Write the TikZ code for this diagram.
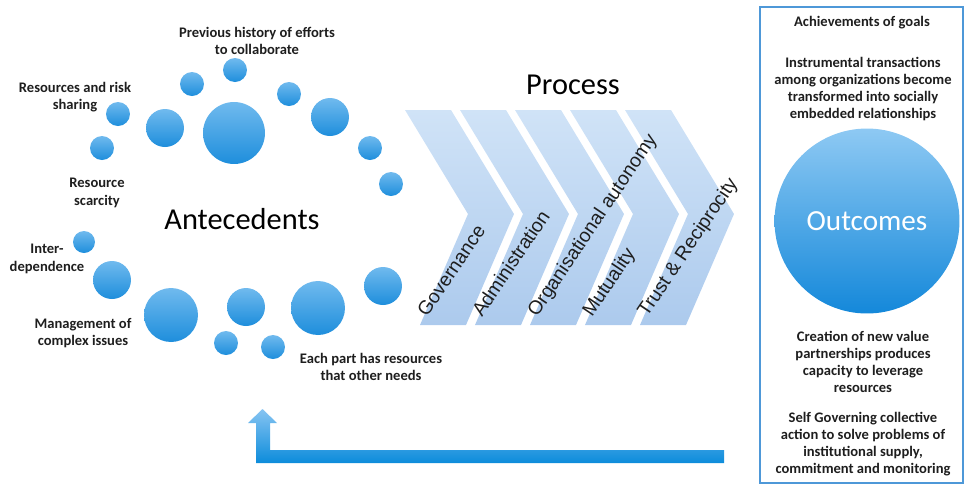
\documentclass[tikz,border=0pt]{standalone}
\usepackage{fontspec}
\setmainfont{Carlito}
\newfontfamily\chevfont{Liberation Sans}
\usepackage{tikz}
\definecolor{bubtop}{RGB}{112,186,238}
\definecolor{bubbot}{RGB}{30,142,220}
\definecolor{chevtop}{RGB}{208,227,247}
\definecolor{chevbot}{RGB}{172,202,237}
\definecolor{outtop}{RGB}{142,201,243}
\definecolor{outbot}{RGB}{20,136,218}
\definecolor{arrtop}{RGB}{135,196,242}
\definecolor{arrbot}{RGB}{12,140,219}
\definecolor{panelblue}{RGB}{78,152,216}
\definecolor{lbltext}{RGB}{30,30,30}

\begin{document}
\begin{tikzpicture}[x=0.02cm,y=-0.02cm,
  bubble/.style={circle,minimum size=#1*0.04cm,top color=bubtop,bottom color=bubbot},
  lbl/.style={font=\bfseries\fontsize{8.3}{9.8}\selectfont,align=center,text=lbltext},
  chevlbl/.style={font=\chevfont\fontsize{11}{13}\selectfont,rotate=56,anchor=base west,text=lbltext},
  title/.style={font=\fontsize{17.3}{20}\selectfont,text=black}]
\tikzstyle{every node}+=[inner sep=0pt]
\useasboundingbox (0,0) rectangle (964,485);
% antecedent bubbles
\foreach \x/\y/\r [count=\i] in {235/70/12,192/84/12,289/94/12,165/128/19,234/133/31,
  330/117/19,118/114/12,102/148/12,370/148/12,391/184/12,84/242/11,112/280/19,
  171/315/27,246/307/19,226/343/12,273/347/12,318/308/27,383/286/19}
  \node[bubble=\r] (b\i) at (\x,\y) {};
\node[lbl] (hist) at (257,41) {Previous history of efforts\\to collaborate};
\node[lbl] (risk) at (75,97) {Resources and risk\\sharing};
\node[lbl] (scar) at (97,193) {Resource\\scarcity};
\node[lbl] (inter) at (47,259) {Inter-\\dependence};
\node[lbl] (mgmt) at (83,333) {Management of\\complex issues};
\node[lbl] (part) at (371,367) {Each part has resources\\that other needs};
\node[title] (ante) at (242,219) {Antecedents};
% process chevrons
\foreach \k in {0,...,4}
  \shade[top color=chevtop,bottom color=chevbot] ({405+55*\k},110) -- ({451+55*\k},110)
    -- ({514+55*\k},214) -- ({466+55*\k},325) -- ({420+55*\k},325) -- ({468+55*\k},214) -- cycle;
\node[title] (proc) at (573,85) {Process};
\node[chevlbl] (gov) at (427,318) {Governance};
\node[chevlbl] (adm) at (482,318) {Administration};
\node[chevlbl] (auto) at (537,318) {Organisational autonomy};
\node[chevlbl] (mut) at (592,318) {Mutuality};
\node[chevlbl] (trust) at (647,318) {Trust \& Reciprocity};
% outcomes panel
\node[draw=panelblue,line width=1.2pt,minimum width=4.06cm,minimum height=9.52cm] (panel) at (861.5,245) {};
\node[lbl] (goal) at (862,23) {Achievements of goals};
\node[lbl] (instr) at (863,89) {Instrumental transactions\\among organizations become\\transformed into socially\\embedded relationships};
\node[circle,minimum size=3.7cm,top color=outtop,bottom color=outbot,text=white,
  font=\fontsize{16.6}{19}\selectfont] (outc) at (867,221) {Outcomes};
\node[lbl] (value) at (863,362) {Creation of new value\\partnerships produces\\capacity to leverage\\resources};
\node[lbl] (self) at (863,444) {Self Governing collective\\action to solve problems of\\institutional supply,\\commitment and monitoring};
% feedback arrow
\shade[top color=arrtop,middle color=bubtop,bottom color=arrbot] (724,450) -- (270,450) -- (270,423) -- (277,423)
  -- (262.5,409) -- (248,423) -- (256,423) -- (256,463) -- (724,463) -- cycle;
\end{tikzpicture}
\end{document}
